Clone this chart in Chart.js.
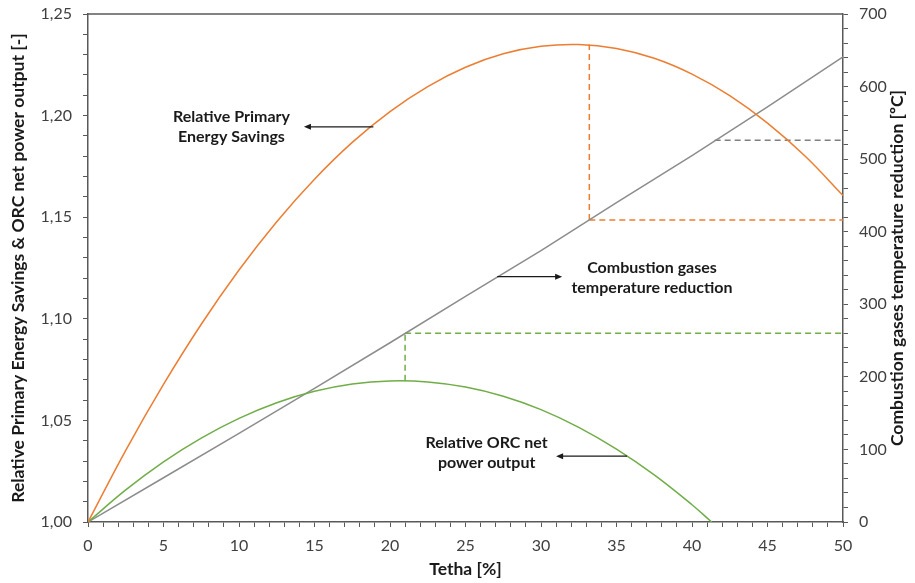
<!DOCTYPE html>
<html>
<head>
<meta charset="utf-8">
<script src="https://cdn.jsdelivr.net/npm/chart.js@4"></script>
<style>
  body { margin: 0; background: #fff; }
  #wrap { width: 915px; height: 583px; }
</style>
</head>
<body>
<div id="wrap"><canvas id="c"></canvas></div>
<script>
// values
const tetha = [0, 2.5, 5, 7.5, 10, 12.5, 15, 17.5, 20, 22.5, 25, 27.5, 30, 32.5, 35, 37.5, 40, 42.5, 45, 47.5, 50];
const pesRel = [1.0000, 1.0353, 1.0677, 1.0973, 1.1240, 1.1478, 1.1687, 1.1868, 1.2020, 1.2143, 1.2238, 1.2304, 1.2341, 1.2350, 1.2330, 1.2282, 1.2204, 1.2098, 1.1963, 1.1800, 1.1607];

const orcX = [0, 2.5, 5, 7.5, 10, 12.5, 15, 17.5, 20, 22.5, 25, 27.5, 30, 32.5, 35, 37.5, 40, 41.3];
const orcRel = [1.0000, 1.0158, 1.0296, 1.0413, 1.0510, 1.0587, 1.0643, 1.0679, 1.0694, 1.0689, 1.0664, 1.0619, 1.0553, 1.0466, 1.0359, 1.0232, 1.0085, 1.0000];

const gasX = [0, 5, 10, 15, 20, 25, 30, 35, 40, 45, 50];
const gasTemp = [0, 61, 122, 184, 247, 311, 374, 440, 505, 572, 641];

// dashed guide lines: x where they start, temperature level, curve value
const guideX = [21, 33.2, 41.5];
const guideTemp = [260, 416, 526];
const guideCurve = [1.0695, 1.235];

const yMin = 1.0, yMax = 1.25, tMin = 0, tMax = 700;
const toLeft = t => yMin + (t - tMin) / (tMax - tMin) * (yMax - yMin);

const ORANGE = '#ED7D31', GREEN = '#70AD47', GREY = '#8C8C8C', AXIS = '#595959';
const rightTitle = 'Combustion gases temperature reduction [ºC]';

const notes = [
  { lines: ['Relative Primary', 'Energy Savings'], axis: 'y', x: 9.5, y: 1.1945, from: 18.9, to: 14.3, ay: 1.1945 },
  { lines: ['Combustion gases', 'temperature reduction'], axis: 'y2', x: 37.35, y: 336, from: 27.1, to: 31.4, ay: 338 },
  { lines: ['Relative ORC net', 'power output'], axis: 'y', x: 26.4, y: 1.034, from: 35.7, to: 31.0, ay: 1.0324 }
];

const notesPlugin = {
  id: 'notes',
  afterDatasetsDraw(chart) {
    const ctx = chart.ctx, xs = chart.scales.x;
    const a = chart.chartArea;
    ctx.save();
    // top edge of the frame
    ctx.strokeStyle = AXIS;
    ctx.lineWidth = 1.5;
    ctx.beginPath();
    ctx.moveTo(a.left, a.top);
    ctx.lineTo(a.right, a.top);
    ctx.stroke();

    // right axis title, reading bottom to top like the left one
    ctx.save();
    ctx.translate(897, (a.top + a.bottom) / 2);
    ctx.rotate(-Math.PI / 2);
    ctx.font = 'bold 17.5px Lato';
    ctx.fillStyle = '#1a1a1a';
    ctx.textAlign = 'center';
    ctx.textBaseline = 'middle';
    ctx.fillText(rightTitle, 0, 0);
    ctx.restore();

    ctx.fillStyle = '#1a1a1a';
    ctx.strokeStyle = '#1a1a1a';
    ctx.font = 'bold 16px Lato';
    ctx.textAlign = 'center';
    ctx.textBaseline = 'middle';
    notes.forEach(n => {
      const ys = chart.scales[n.axis];
      const cx = xs.getPixelForValue(n.x), cy = ys.getPixelForValue(n.y);
      ctx.fillText(n.lines[0], cx, cy - 10);
      ctx.fillText(n.lines[1], cx, cy + 10);
      const x1 = xs.getPixelForValue(n.from), x2 = xs.getPixelForValue(n.to);
      const y = ys.getPixelForValue(n.ay);
      const dir = Math.sign(x2 - x1);
      ctx.lineWidth = 1.3;
      ctx.beginPath();
      ctx.moveTo(x1, y);
      ctx.lineTo(x2 - dir * 5, y);
      ctx.stroke();
      ctx.beginPath();
      ctx.moveTo(x2, y);
      ctx.lineTo(x2 - dir * 7, y - 3);
      ctx.lineTo(x2 - dir * 7, y + 3);
      ctx.closePath();
      ctx.fill();
    });
    ctx.restore();
  }
};

const line = (data, color, axis, extra) => Object.assign({
  data, borderColor: color, borderWidth: 1.5, pointRadius: 0, yAxisID: axis, fill: false
}, extra || {});
const dash = [6, 4];

const datasets = [
  line(tetha.map((x, i) => ({ x, y: pesRel[i] })), ORANGE, 'y', { tension: 0.4 }),
  line(orcX.map((x, i) => ({ x, y: orcRel[i] })), GREEN, 'y', { tension: 0.4 }),
  line(gasX.map((x, i) => ({ x, y: gasTemp[i] })), GREY, 'y2'),
  // green guides
  line([{ x: guideX[0], y: guideCurve[0] }, { x: guideX[0], y: toLeft(guideTemp[0]) }], GREEN, 'y', { borderDash: dash }),
  line([{ x: guideX[0], y: guideTemp[0] }, { x: 50, y: guideTemp[0] }], GREEN, 'y2', { borderDash: dash }),
  // orange guides
  line([{ x: guideX[1], y: toLeft(guideTemp[1]) }, { x: guideX[1], y: guideCurve[1] }], ORANGE, 'y', { borderDash: dash }),
  line([{ x: guideX[1], y: guideTemp[1] }, { x: 50, y: guideTemp[1] }], ORANGE, 'y2', { borderDash: dash }),
  // grey guide
  line([{ x: guideX[2], y: guideTemp[2] }, { x: 50, y: guideTemp[2] }], '#7F7F7F', 'y2', { borderDash: dash })
];

const tickFont = { family: 'Lato', size: 16 };
const titleFont = { family: 'Lato', size: 17.5, weight: 'bold' };
const grid = { display: true, drawOnChartArea: false, drawTicks: true, tickLength: 5, color: AXIS, lineWidth: 1 };
const border = { display: true, color: AXIS, width: 1.5 };
const fitY = w => s => { s.width = w; s.paddingTop = 0; s.paddingBottom = 0; };

new Chart(document.getElementById('c'), {
  type: 'line',
  data: { datasets },
  plugins: [notesPlugin],
  options: {
    responsive: true,
    maintainAspectRatio: false,
    animation: false,
    layout: { padding: { top: 14, right: 0, bottom: 0, left: 0 } },
    plugins: { legend: { display: false }, tooltip: { enabled: false } },
    scales: {
      x: {
        type: 'linear', min: 0, max: 50,
        grid, border,
        ticks: {
          stepSize: 1, autoSkip: false, maxRotation: 0, padding: 9,
          color: '#404040', font: tickFont,
          callback: v => (Math.abs(v % 5) < 1e-6 ? String(v) : '')
        },
        title: { display: true, text: 'Tetha [%]', color: '#1a1a1a', font: titleFont, padding: { top: 2, bottom: 3 } },
        afterFit: s => { s.height = 61; s.paddingLeft = 0; s.paddingRight = 0; }
      },
      y: {
        type: 'linear', position: 'left', min: yMin, max: yMax,
        grid, border,
        ticks: {
          stepSize: 0.01, autoSkip: false, padding: 11,
          color: '#404040', font: tickFont,
          callback: v => {
            const k = v * 20;
            return Math.abs(k - Math.round(k)) < 1e-6 ? v.toFixed(2).replace('.', ',') : '';
          }
        },
        title: { display: true, text: 'Relative Primary Energy Savings & ORC net power output [-]', color: '#1a1a1a', font: titleFont, padding: { top: 8, bottom: 0 } },
        afterFit: fitY(88)
      },
      y2: {
        type: 'linear', position: 'right', min: tMin, max: tMax,
        grid, border,
        ticks: {
          stepSize: 20, autoSkip: false, padding: 11,
          color: '#404040', font: tickFont,
          callback: v => (v % 100 === 0 ? String(v) : '')
        },
        title: { display: false },
        afterFit: fitY(72)
      }
    }
  }
});
</script>
</body>
</html>
